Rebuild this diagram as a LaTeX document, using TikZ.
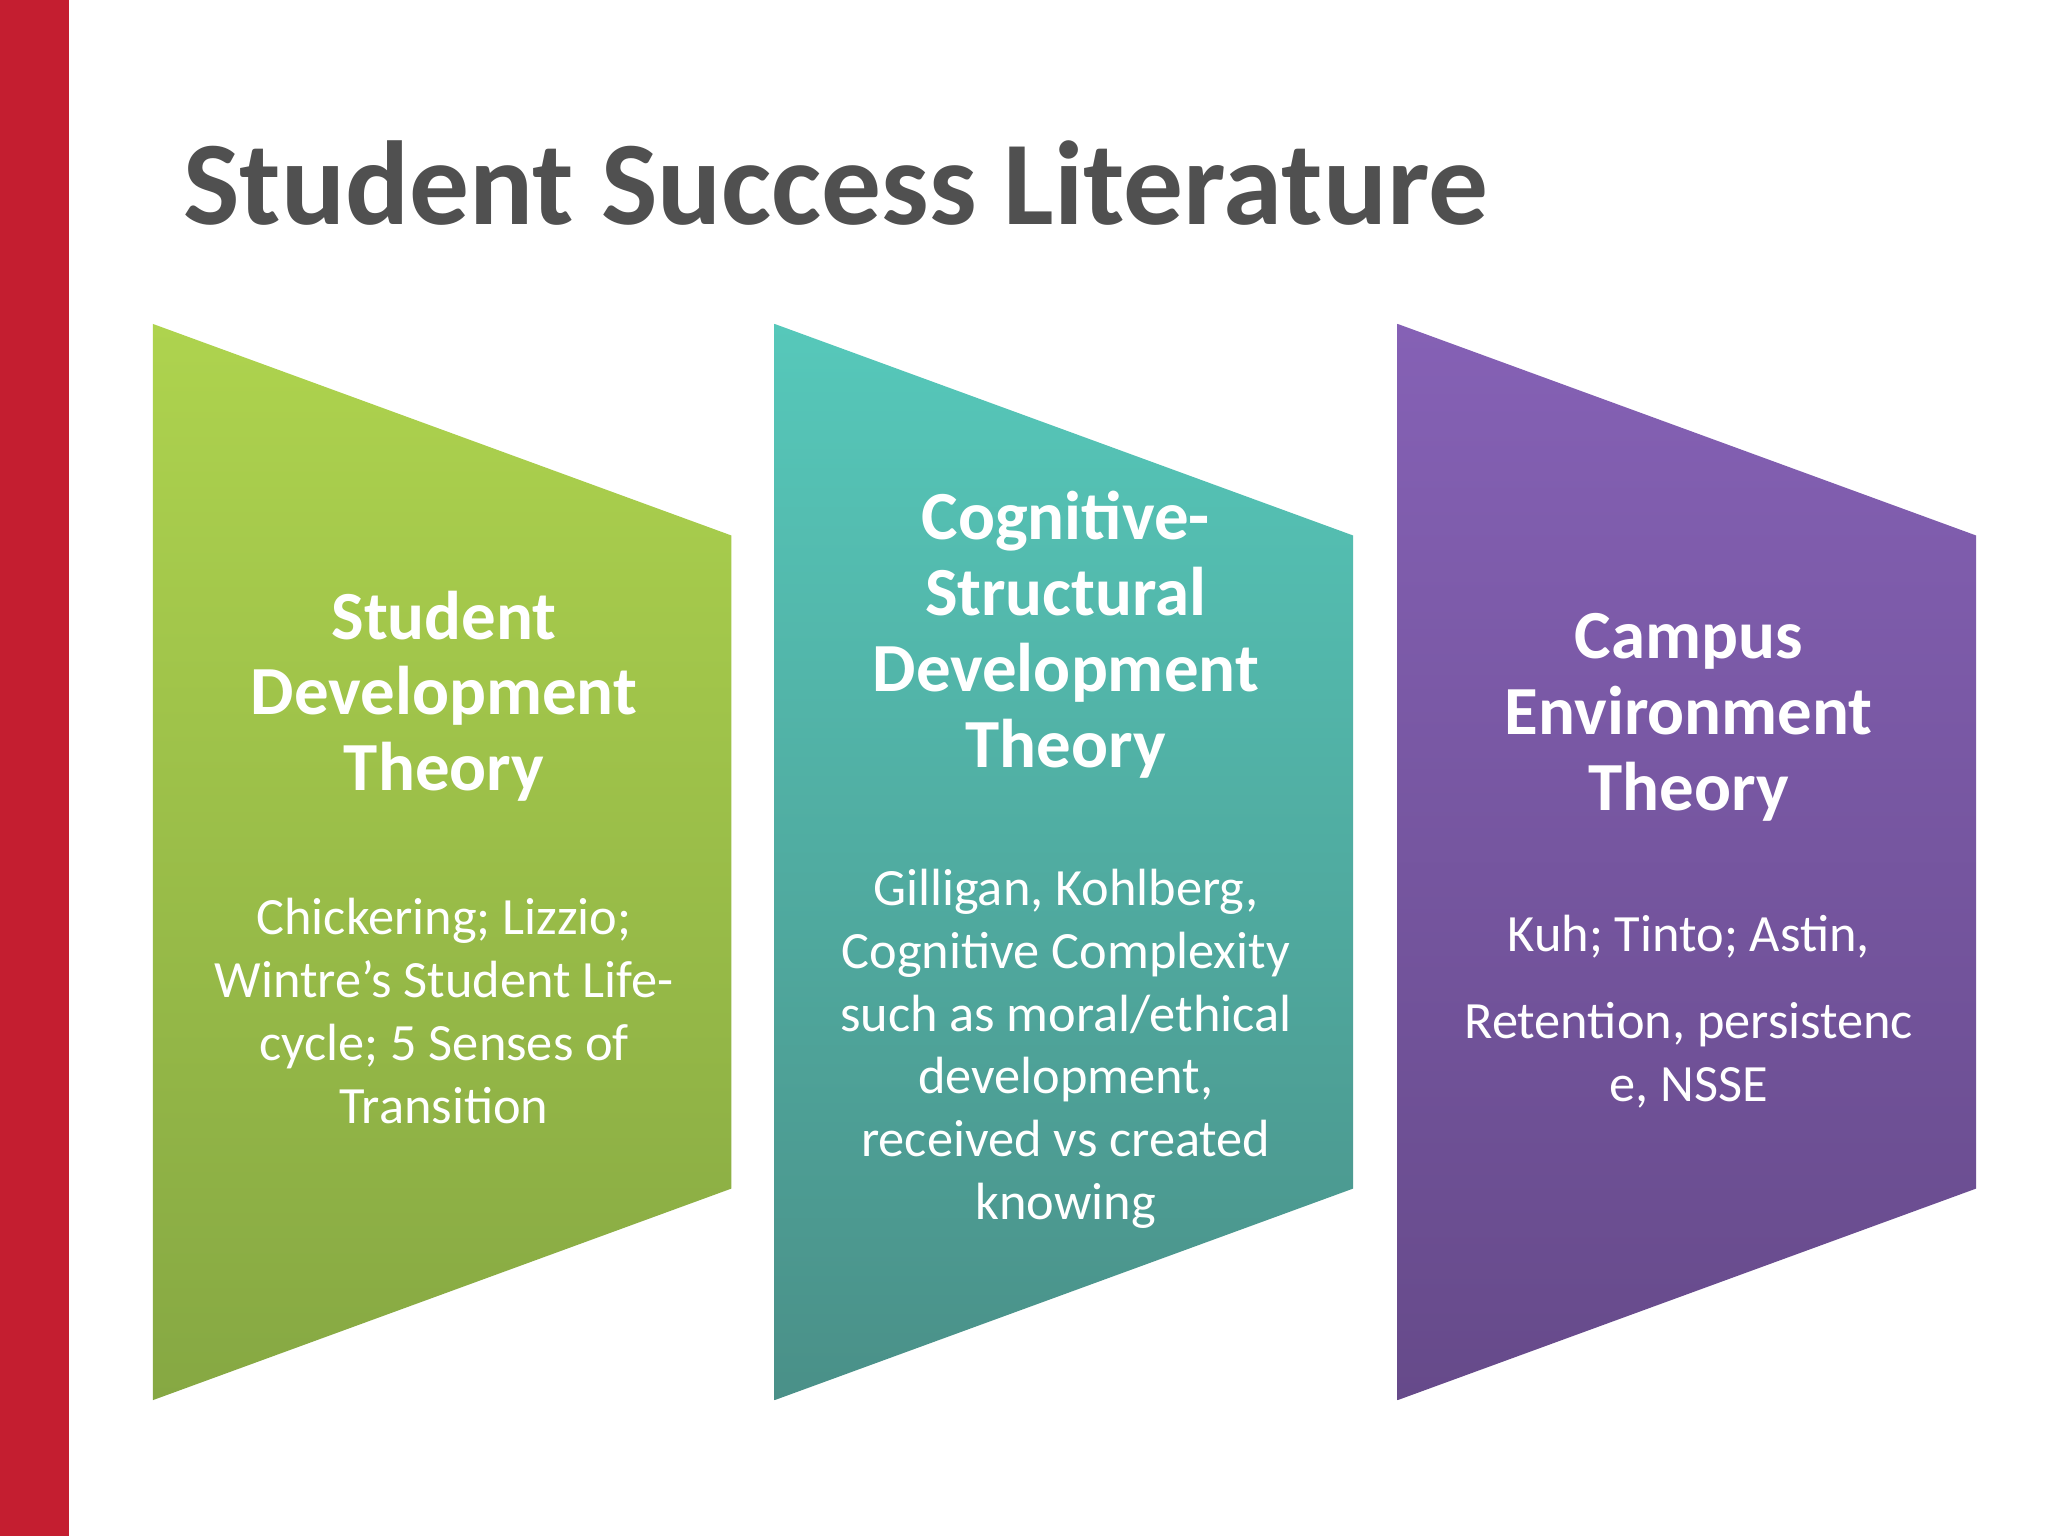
\documentclass[tikz,border=0pt]{standalone}
\usepackage{fontspec}
\setmainfont{Carlito}
\begin{document}
\begin{tikzpicture}[x=0.01cm,y=-0.01cm,
  head/.style={text=white,font=\fontsize{15}{16.5}\selectfont\bfseries,align=center},
  body/.style={text=white,font=\fontsize{11.4}{13.7}\selectfont,align=center}]
\definecolor{redbar}{HTML}{C41E30}
\definecolor{titlec}{HTML}{505050}
\useasboundingbox (0,0) rectangle (1568,1176);
\fill[white] (0,0) rectangle (1568,1176);
\fill[redbar] (0,0) rectangle (53,1176);
\node[anchor=west,text=titlec,font=\fontsize{26}{30}\selectfont\bfseries] (title) at (128,140) {Student Success Literature};
\foreach \x/\ct/\cb [count=\i] in {117/AED34E/86A843, 593/56C8BA/4A9088, 1070/8561B5/664A8A}{
  \definecolor{ct\i}{HTML}{\ct}\definecolor{cb\i}{HTML}{\cb}
  \shade[top color=ct\i,bottom color=cb\i] (\x,248) -- (\x+443,410) -- (\x+443,910) -- (\x,1072) -- cycle;
}
\node[head] (h1) at (340,533) {Student\\Development\\Theory};
\node[body] (b1) at (340,774) {Chickering; Lizzio;\\Wintre’s Student Life-\\cycle; 5 Senses of\\Transition};
\node[head] (h2) at (816,486) {Cognitive-\\Structural\\Development\\Theory};
\node[body] (b2) at (816,803) {Gilligan, Kohlberg,\\Cognitive Complexity\\such as moral/ethical\\development,\\received vs created\\knowing};
\node[head] (h3) at (1293,549) {Campus\\Environment\\Theory};
\node[body] (b3a) at (1293,717) {Kuh; Tinto; Astin,};
\node[body] (b3b) at (1293,808) {Retention, persistenc\\e, NSSE};
\end{tikzpicture}
\end{document}
